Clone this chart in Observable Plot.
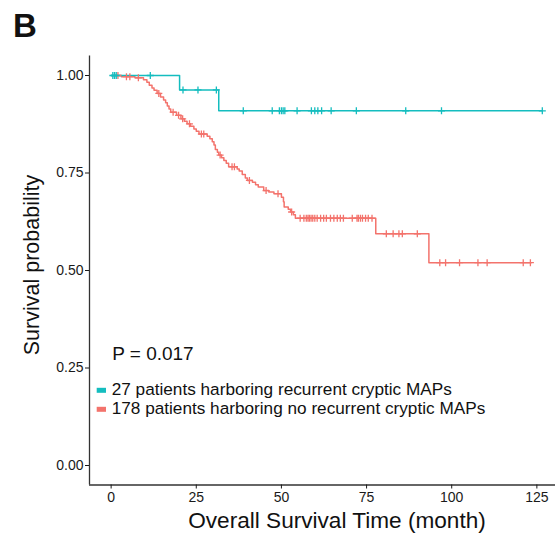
<!DOCTYPE html>
<html>
<head>
<meta charset="utf-8">
<script src="https://cdn.jsdelivr.net/npm/d3@7"></script>
<script src="https://cdn.jsdelivr.net/npm/@observablehq/plot@0.6"></script>
<style>
  html, body { margin: 0; padding: 0; background: #fff; overflow: hidden; }
  #wrap { position: relative; width: 555px; height: 535px; overflow: hidden;
          font-family: "Liberation Sans", Arial, Helvetica, sans-serif; }
  #wrap svg { position: absolute; left: 0; top: 0; }
</style>
</head>
<body>
<div id="wrap"></div>
<script>
// Kaplan–Meier curves: each step gives the month of the drop and the survival after it
const groupNames = [
  "27 patients harboring recurrent cryptic MAPs",
  "178 patients harboring no recurrent cryptic MAPs"
];
const groupColors = ["#14BDBF", "#F3736C"];

const mapStepTime = [0, 20.1, 31.6];
const mapStepSurv = [1.000, 0.963, 0.9095];
const mapEndTime = 126.6;
const mapCensorTime = [0.5, 1.0, 1.5, 11.5, 21.1, 25.5, 30.9, 38.8, 47.3, 49.4, 50.0, 50.5,
  51.0, 54.6, 58.8, 59.8, 60.7, 61.8, 64.6, 72.0, 86.5, 97.0, 126.6];

const noMapStepTime = [0, 3.0, 7.0, 9.5, 10.5, 11.2, 12.0, 12.6, 13.5, 14.5, 15.4, 16.0, 16.5,
  17.0, 17.5, 19.2, 20.5, 21.5, 22.3, 23.3, 24.3, 25.0, 25.8, 28.2, 29.0, 29.7, 30.2, 30.6,
  31.2, 31.6, 32.4, 33.1, 33.8, 34.5, 37.0, 37.6, 38.5, 39.4, 40.0, 41.5, 42.4, 43.2, 44.8,
  46.3, 47.8, 50.0, 50.6, 50.8, 52.0, 52.7, 53.5, 54.1, 77.7, 93.3];
const noMapStepSurv = [1.000, 0.997, 0.994, 0.989, 0.983, 0.975, 0.968, 0.962, 0.954, 0.945,
  0.937, 0.930, 0.922, 0.914, 0.906, 0.898, 0.889, 0.883, 0.876, 0.870, 0.863, 0.857, 0.850,
  0.844, 0.838, 0.830, 0.822, 0.810, 0.803, 0.796, 0.789, 0.782, 0.775, 0.766, 0.760, 0.755,
  0.746, 0.737, 0.731, 0.726, 0.720, 0.714, 0.705, 0.701, 0.697, 0.688, 0.676, 0.663, 0.657,
  0.650, 0.643, 0.634, 0.594, 0.520];
const noMapEndTime = 123.3;
const noMapCensorTime = [2.0, 4.5, 5.5, 8.0, 14.0, 18.2, 19.8, 21.0, 23.0, 26.5, 27.2, 32.0,
  35.5, 36.2, 40.6, 45.5, 49.0, 53.0, 55.5, 56.6, 57.3, 57.8, 58.2, 58.7, 59.2, 59.8, 60.5,
  61.5, 62.4, 63.2, 64.4, 65.4, 66.4, 67.3, 68.2, 70.8, 72.2, 72.6, 73.2, 73.8, 74.7, 75.5,
  76.6, 80.8, 82.8, 84.5, 85.5, 89.9, 96.5, 98.2, 102.3, 107.7, 110.4, 121.0, 123.1];

const xTicks = [0, 25, 50, 75, 100, 125];
const yTicks = [0, 0.25, 0.5, 0.75, 1];
const xDomain = [-6.35, 133.35];
const yDomain = [-0.05, 1.05];
const pValueText = "P = 0.017";
const pValuePos = {t: 0.3, s: 0.285};
const xTitle = "Overall Survival Time (month)";
const yTitle = "Survival probability";
const panelTag = "B";

// step path rows, closed with the last follow-up time
function stepRows(times, surv, end, group) {
  const rows = times.map((t, i) => ({t, s: surv[i], group}));
  rows.push({t: end, s: surv[surv.length - 1], group});
  return rows;
}
// censored subjects sit on the curve level in force at their time
function censorRows(censor, times, surv, group) {
  return censor.map(t => {
    let k = 0;
    for (let i = 0; i < times.length; i++) if (times[i] <= t) k = i;
    return {t, s: surv[k], group};
  });
}

const curves = [
  ...stepRows(noMapStepTime, noMapStepSurv, noMapEndTime, groupNames[1]),
  ...stepRows(mapStepTime, mapStepSurv, mapEndTime, groupNames[0])
];
const censored = [
  ...censorRows(noMapCensorTime, noMapStepTime, noMapStepSurv, groupNames[1]),
  ...censorRows(mapCensorTime, mapStepTime, mapStepSurv, groupNames[0])
];

const font = "'Liberation Sans', Arial, Helvetica, sans-serif";

const chart = Plot.plot({
  width: 575,
  height: 535,
  marginLeft: 89,
  marginRight: 10.2,
  marginTop: 55.5,
  marginBottom: 50.5,
  x: {domain: xDomain},
  y: {domain: yDomain},
  color: {domain: groupNames, range: groupColors},
  style: {maxWidth: "none", fontFamily: font, background: "transparent", overflow: "visible"},
  marks: [
    Plot.line(curves, {x: "t", y: "s", z: "group", stroke: "group", curve: "step-after", strokeWidth: 1.5}),
    Plot.dot(censored, {x: "t", y: "s", stroke: "group", symbol: "plus", r: 2.4, strokeWidth: 1.3}),
    Plot.ruleX([xDomain[0]], {stroke: "#333", strokeWidth: 1.3}),
    Plot.ruleY([yDomain[0]], {stroke: "#333", strokeWidth: 1.3}),
    Plot.axisY(yTicks, {tickSize: 4, tickPadding: 2, tickFormat: d => d.toFixed(2), fontSize: 14, color: "#1a1a1a", label: null}),
    Plot.axisX(xTicks, {tickSize: 4, tickPadding: 3, fontSize: 14, color: "#1a1a1a", label: null}),
    Plot.text([pValuePos], {x: "t", y: "s", text: () => pValueText, textAnchor: "start", fontSize: 19, fill: "#111"})
  ]
});
document.getElementById("wrap").appendChild(chart);

// titles, panel tag and legend
const over = d3.select("#wrap").append("svg")
  .attr("width", 555).attr("height", 535)
  .style("font-family", font);

over.append("text").attr("x", 13).attr("y", 37)
  .attr("font-size", 33).attr("font-weight", "bold").attr("fill", "#111").text(panelTag);

over.append("text").attr("x", 337).attr("y", 528).attr("text-anchor", "middle")
  .attr("font-size", 22.6).attr("fill", "#111").text(xTitle);

over.append("text").attr("transform", "translate(38.5,265) rotate(-90)")
  .attr("text-anchor", "middle").attr("font-size", 21.5).attr("fill", "#111").text(yTitle);

const legend = over.append("g");
groupNames.forEach((name, i) => {
  legend.append("rect").attr("x", 96.7).attr("y", 387.8 + i * 19).attr("width", 9.3).attr("height", 5)
    .attr("fill", groupColors[i]);
  legend.append("text").attr("x", 111.7).attr("y", 394.6 + i * 19)
    .attr("font-size", 17.2).attr("fill", "#111").text(name);
});
</script>
</body>
</html>
